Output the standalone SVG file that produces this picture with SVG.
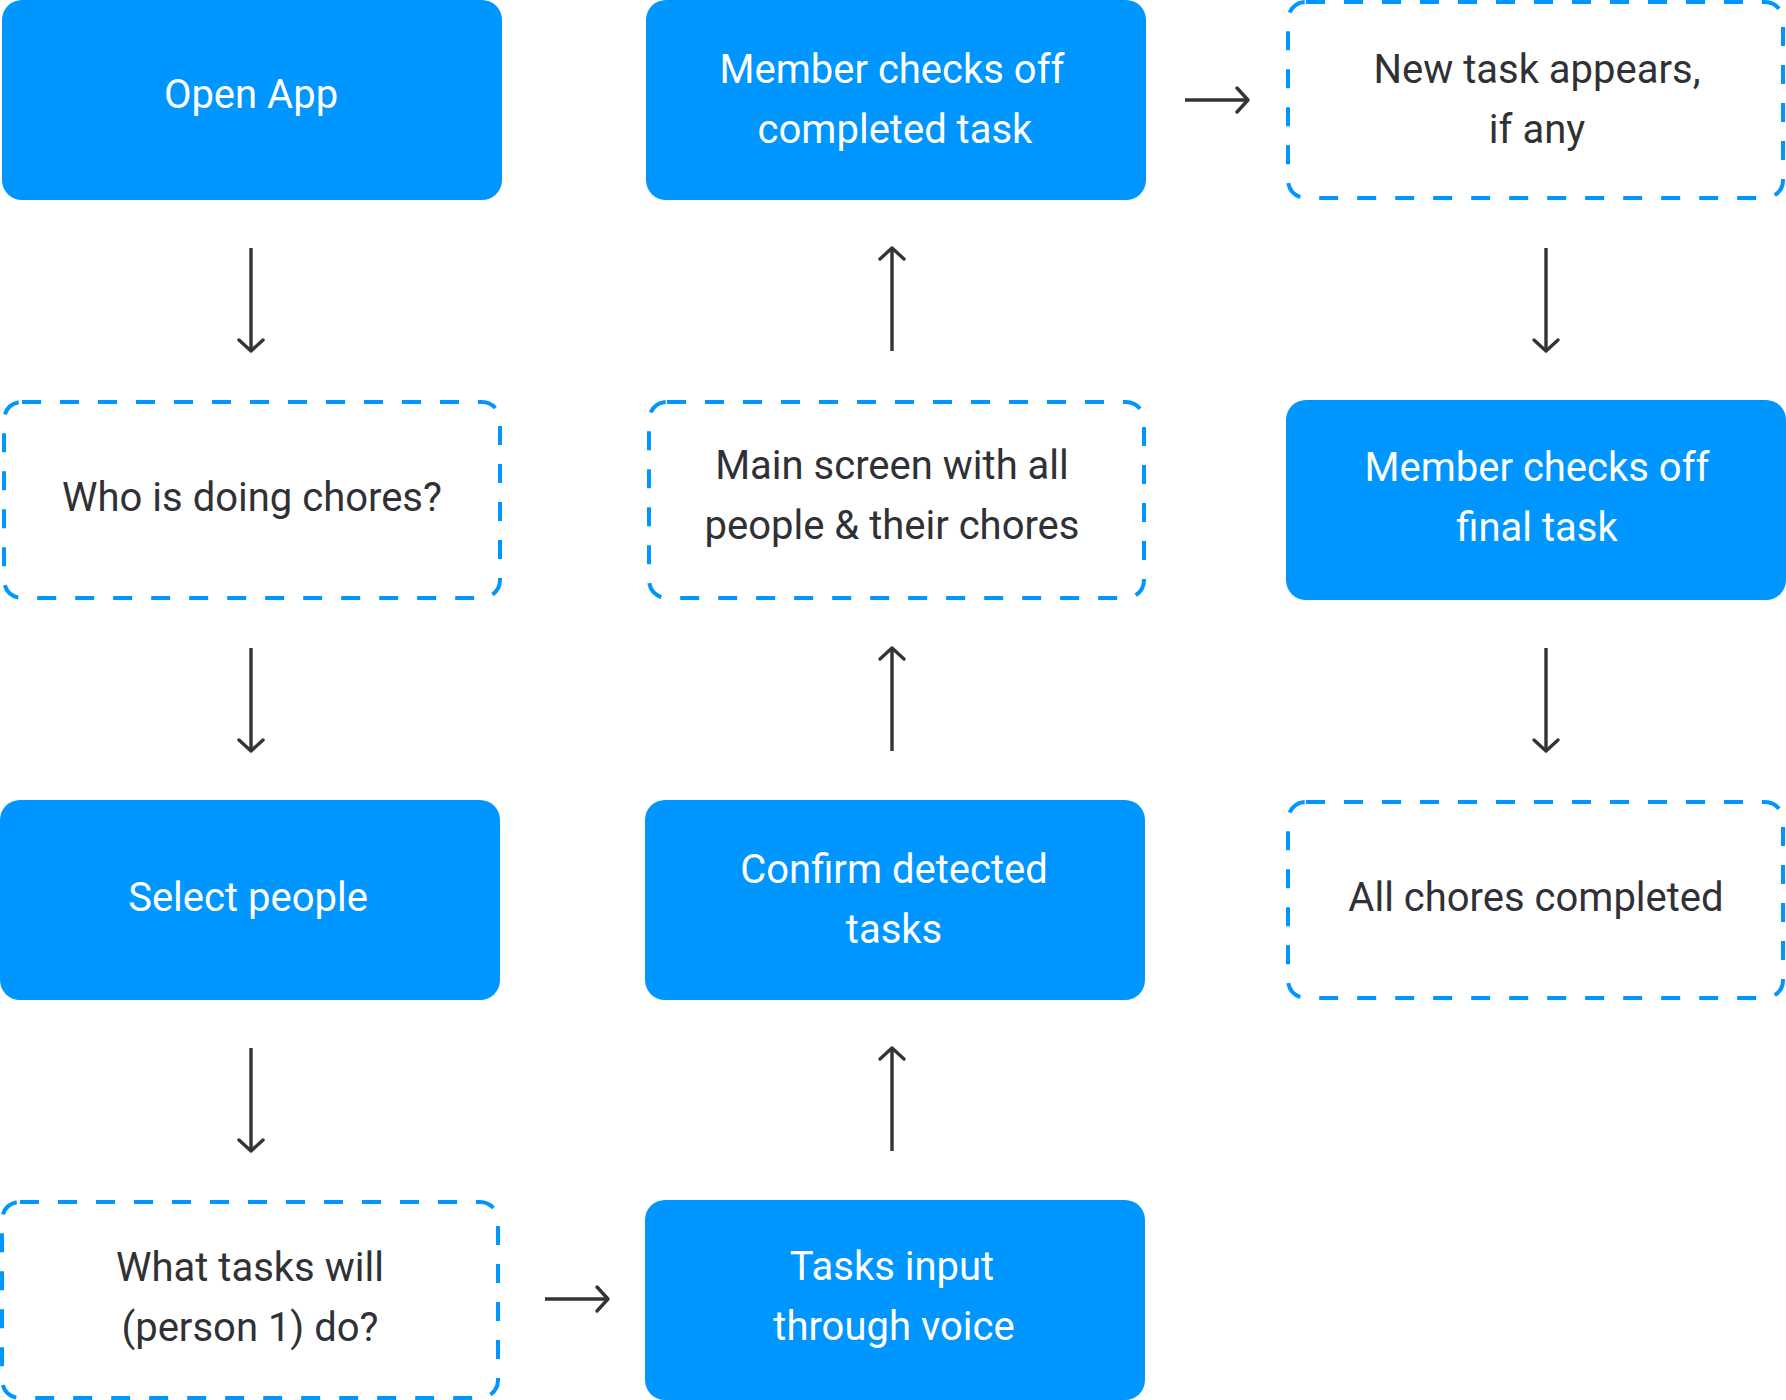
<svg xmlns="http://www.w3.org/2000/svg" width="1786" height="1400" viewBox="0 0 1786 1400">
<style>
.solid{fill:#0096ff;}
.dash{fill:none;stroke:#0096ff;stroke-width:4;stroke-dasharray:19 19;}
.tw{font-family:Roboto,"Noto Sans",sans-serif;font-size:40px;fill:#ffffff;text-anchor:middle;}
.td{font-family:Roboto,"Noto Sans",sans-serif;font-size:40px;fill:#303136;text-anchor:middle;}
.edge{stroke:#333338;stroke-width:3.4;fill:none;marker-end:url(#arr);}
</style>
<defs>
<marker id="arr" markerUnits="userSpaceOnUse" viewBox="-16 -16 20 32" markerWidth="20" markerHeight="32" refX="0" refY="0" orient="auto" overflow="visible">
<path d="M-11,-12 L0,0 L-11,12" fill="none" stroke="#333338" stroke-width="3.4" stroke-linecap="round" stroke-linejoin="round"/>
</marker>
</defs>
<rect width="1786" height="1400" fill="#ffffff"/>
<g id="n-open-app">
<rect class="solid" x="2" y="0" width="500" height="200" rx="20"/>
<text class="tw" x="251" y="108">Open App</text>
</g>
<g id="n-who">
<rect class="dash" x="4" y="402" width="496" height="196" rx="18"/>
<text class="td" x="252" y="511">Who is doing chores?</text>
</g>
<g id="n-select">
<rect class="solid" x="0" y="800" width="500" height="200" rx="20"/>
<text class="tw" x="248" y="911">Select people</text>
</g>
<g id="n-what">
<rect class="dash" x="2" y="1202" width="496" height="196" rx="18"/>
<text class="td" x="250" y="1281">What tasks will</text>
<text class="td" x="250" y="1341">(person 1) do?</text>
</g>
<g id="n-voice">
<rect class="solid" x="645" y="1200" width="500" height="200" rx="20"/>
<text class="tw" x="892" y="1280">Tasks input</text>
<text class="tw" x="894" y="1340">through voice</text>
</g>
<g id="n-confirm">
<rect class="solid" x="645" y="800" width="500" height="200" rx="20"/>
<text class="tw" x="894" y="883">Confirm detected</text>
<text class="tw" x="894" y="943">tasks</text>
</g>
<g id="n-main">
<rect class="dash" x="649" y="402" width="495" height="196" rx="18"/>
<text class="td" x="892" y="479">Main screen with all</text>
<text class="td" x="892" y="539">people &amp; their chores</text>
</g>
<g id="n-member1">
<rect class="solid" x="646" y="0" width="500" height="200" rx="20"/>
<text class="tw" x="892" y="83">Member checks off</text>
<text class="tw" x="895" y="143">completed task</text>
</g>
<g id="n-newtask">
<rect class="dash" x="1288" y="2" width="495" height="196" rx="18"/>
<text class="td" x="1537" y="83">New task appears,</text>
<text class="td" x="1537" y="143">if any</text>
</g>
<g id="n-member2">
<rect class="solid" x="1286" y="400" width="500" height="200" rx="20"/>
<text class="tw" x="1537" y="481">Member checks off</text>
<text class="tw" x="1537" y="541">final task</text>
</g>
<g id="n-all">
<rect class="dash" x="1288" y="802" width="495" height="196" rx="18"/>
<text class="td" x="1536" y="911">All chores completed</text>
</g>
<g id="connectors">
<line class="edge" x1="251" y1="248" x2="251" y2="351"/>
<line class="edge" x1="251" y1="648" x2="251" y2="751"/>
<line class="edge" x1="251" y1="1048" x2="251" y2="1151"/>
<line class="edge" x1="545" y1="1299" x2="608" y2="1299"/>
<line class="edge" x1="892" y1="1151" x2="892" y2="1048"/>
<line class="edge" x1="892" y1="751" x2="892" y2="648"/>
<line class="edge" x1="892" y1="351" x2="892" y2="248"/>
<line class="edge" x1="1185" y1="100" x2="1248" y2="100"/>
<line class="edge" x1="1546" y1="248" x2="1546" y2="351"/>
<line class="edge" x1="1546" y1="648" x2="1546" y2="751"/>
</g>
</svg>
